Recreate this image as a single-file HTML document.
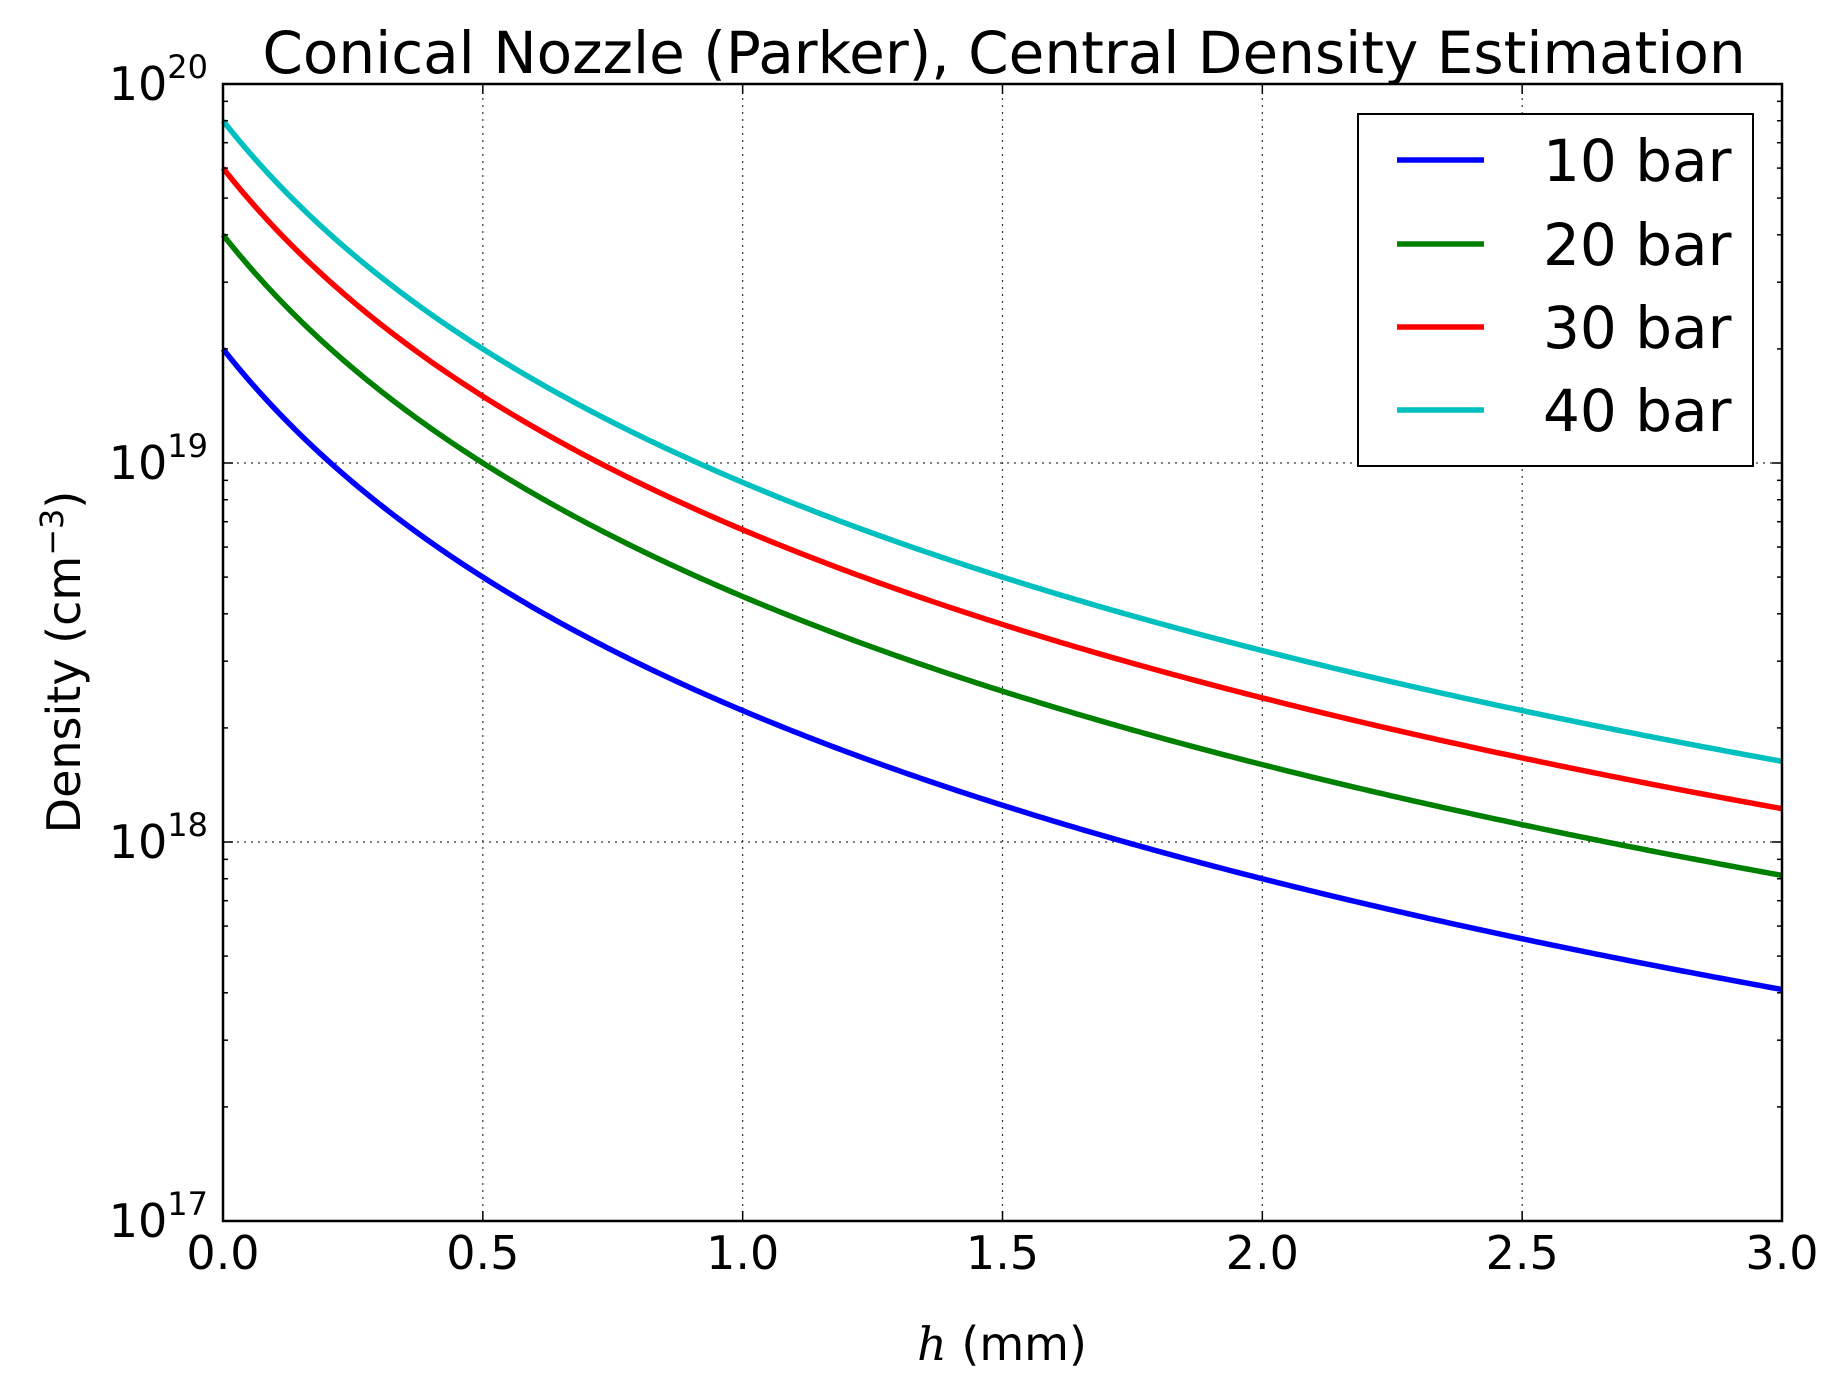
<!DOCTYPE html>
<html><head><style>
html,body{margin:0;padding:0;background:#fff;}
svg{display:block;font-family:"DejaVu Sans","Liberation Sans",sans-serif;}
</style></head><body>
<svg id="s" width="1836" height="1387" viewBox="0 0 1836 1387" xmlns="http://www.w3.org/2000/svg">
<rect width="1836" height="1387" fill="#fff"/>
<g id="grid" stroke="#000" stroke-width="1.2" stroke-dasharray="2,5" opacity="0.8"></g>
<g id="curves" fill="none" stroke-width="5.5"></g>
<g id="ticks" stroke="#000" stroke-width="1.5"></g>
<rect x="223" y="84" width="1559" height="1137" fill="none" stroke="#000" stroke-width="2.5"/>
<g id="labels" font-size="46" fill="#000"></g>
<text x="1004" y="73" font-size="58" text-anchor="middle">Conical Nozzle (Parker), Central Density Estimation</text>
<text transform="translate(80,662) rotate(-90)" font-size="46" text-anchor="middle">Density (cm<tspan font-size="32" dy="-17">−3</tspan><tspan dy="17">)</tspan></text>
<text x="1002" y="1360" font-size="46" text-anchor="middle"><tspan font-family="'DejaVu Serif','Liberation Serif',serif" font-style="italic">h</tspan> (mm)</text>
<rect x="1358" y="114" width="395" height="352" fill="#fff" stroke="#000" stroke-width="2"/>
<g stroke-width="5.5">
<line x1="1397" y1="160" x2="1484" y2="160" stroke="#0000ff"/>
<line x1="1397" y1="244" x2="1484" y2="244" stroke="#008000"/>
<line x1="1397" y1="327" x2="1484" y2="327" stroke="#ff0000"/>
<line x1="1397" y1="410" x2="1484" y2="410" stroke="#00bfbf"/>
</g>
<g font-size="58">
<text x="1543" y="181">10 bar</text>
<text x="1543" y="265">20 bar</text>
<text x="1543" y="348">30 bar</text>
<text x="1543" y="431">40 bar</text>
</g>
</svg>
<script>
var L=223,R=1782,T=84,B=1221,NS="http://www.w3.org/2000/svg";
function X(h){return L+(R-L)*h/3;}
function Y(v){return B-(B-T)*(Math.log10(v)-17)/3;}
function el(p,t,a,txt){var e=document.createElementNS(NS,t);for(var k in a)e.setAttribute(k,a[k]);if(txt!=null)e.textContent=txt;document.getElementById(p).appendChild(e);return e;}
var cols=["#0000ff","#008000","#ff0000","#00bfbf"];
[2,4,6,8].forEach(function(n,i){var d="";for(var j=0;j<=300;j++){var h=3*j/300;var v=n*1e19/Math.pow(1+2*h,2);d+=(j?"L":"M")+X(h).toFixed(2)+" "+Y(v).toFixed(2);}el("curves","path",{d:d,stroke:cols[i]});});
for(var k=1;k<6;k++){var x=X(k*0.5);el("grid","line",{x1:x,y1:T,x2:x,y2:B});}
for(var e=18;e<20;e++){var y=Y(Math.pow(10,e));el("grid","line",{x1:L,y1:y,x2:R,y2:y});}
for(var k=0;k<=6;k++){var x=X(k*0.5);el("ticks","line",{x1:x,y1:B,x2:x,y2:B-10});el("ticks","line",{x1:x,y1:T,x2:x,y2:T+10});
el("labels","text",{x:x,y:1269,"text-anchor":"middle"},(k*0.5).toFixed(1));}
for(var e=17;e<20;e++){for(var m=1;m<10;m++){var y=Y(m*Math.pow(10,e));var len=m==1?10:5;el("ticks","line",{x1:L,y1:y,x2:L+len,y2:y});el("ticks","line",{x1:R,y1:y,x2:R-len,y2:y});}}
for(var e=17;e<=20;e++){var y=Y(Math.pow(10,e));var t=el("labels","text",{x:208,y:y+16,"text-anchor":"end"});t.appendChild(document.createTextNode("10"));var s=document.createElementNS(NS,"tspan");s.setAttribute("font-size","32");s.setAttribute("dy","-22");s.textContent=e;t.appendChild(s);}
</script>
</body></html>
